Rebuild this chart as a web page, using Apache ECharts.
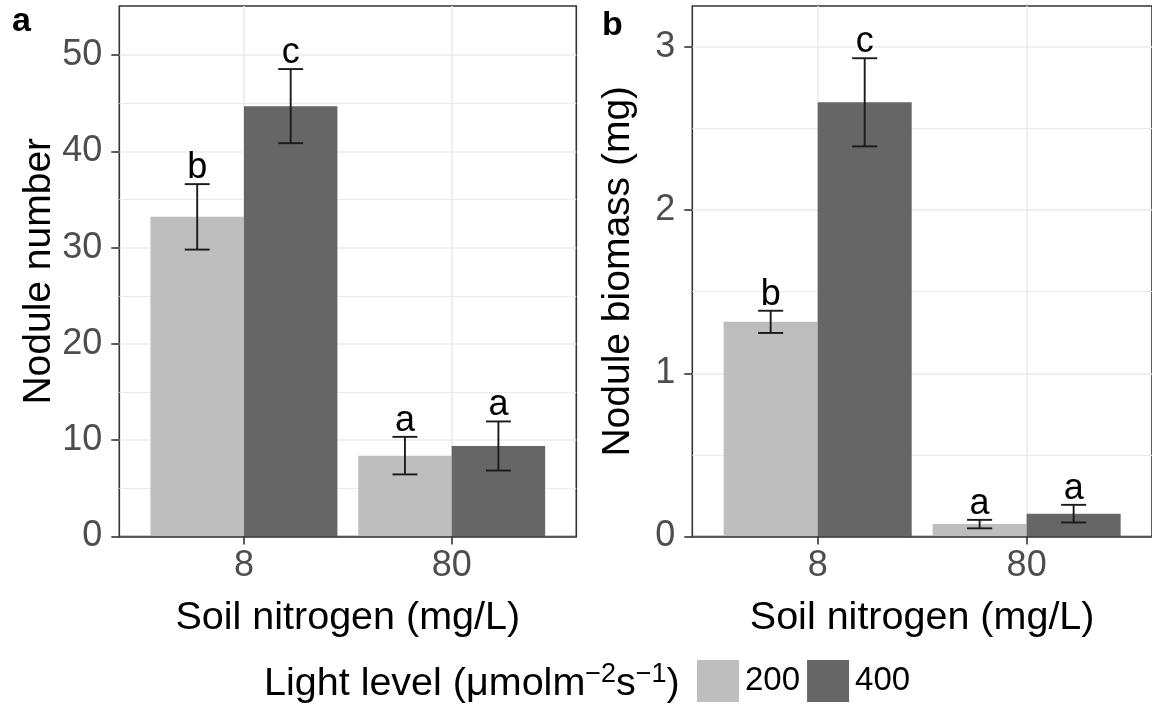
<!DOCTYPE html>
<html>
<head>
<meta charset="utf-8">
<script src="https://cdn.jsdelivr.net/npm/echarts@6/dist/echarts.min.js"></script>
<style>
  html, body { margin: 0; padding: 0; background: #ffffff; }
  #chart { width: 1152px; height: 711px; }
</style>
</head>
<body>
<div id="chart"></div>
<script>
// Soil nitrogen treatments (x categories) and light levels (fill groups)
const nitrogen = ['8', '80'];
const lightLevels = ['200', '400'];

// Panel a: nodule number, mean and standard error
const numberMean200 = [33.2, 8.4];
const numberSe200 = [3.4, 1.95];
const numberMean400 = [44.7, 9.4];
const numberSe400 = [3.85, 2.55];
const numberLetters200 = ['b', 'a'];
const numberLetters400 = ['c', 'a'];
const numberTicks = [0, 10, 20, 30, 40, 50];

// Panel b: nodule biomass (mg), mean and standard error
const biomassMean200 = [1.315, 0.076];
const biomassSe200 = [0.068, 0.026];
const biomassMean400 = [2.66, 0.14];
const biomassSe400 = [0.27, 0.054];
const biomassLetters200 = ['b', 'a'];
const biomassLetters400 = ['c', 'a'];
const biomassTicks = [0, 1, 2, 3];

const FONT = '"Liberation Sans", Arial, sans-serif';
const COLORS = { '200': '#bebebe', '400': '#666666' };
const GRID_COLOR = '#ebebeb';
const positions = nitrogen.map((_, i) => i + 1);

// minor gridlines sit halfway between major breaks
const midpoints = ticks => ticks.slice(1).map((t, i) => (t + ticks[i]) / 2);

const chart = echarts.init(document.getElementById('chart'), null, { renderer: 'canvas' });

// Dodged bar with error bar and significance letter, drawn in data units
function barRenderer(offset, color, letters) {
  const half = 0.225, cap = 0.06;
  return function (params, api) {
    const x = api.value(0) + offset;
    const m = api.value(1), se = api.value(2);
    const tl = api.coord([x - half, m]);
    const br = api.coord([x + half, 0]);
    const hi = api.coord([x, m + se]);
    const lo = api.coord([x, m - se]);
    const cl = api.coord([x - cap, m])[0];
    const cr = api.coord([x + cap, m])[0];
    const ink = { stroke: '#1a1a1a', lineWidth: 1.9 };
    return {
      type: 'group',
      children: [
        { type: 'rect', shape: { x: tl[0], y: tl[1], width: br[0] - tl[0], height: br[1] - tl[1] }, style: { fill: color } },
        { type: 'line', shape: { x1: hi[0], y1: hi[1], x2: lo[0], y2: lo[1] }, style: ink },
        { type: 'line', shape: { x1: cl, y1: hi[1], x2: cr, y2: hi[1] }, style: ink },
        { type: 'line', shape: { x1: cl, y1: lo[1], x2: cr, y2: lo[1] }, style: ink },
        { type: 'text', x: hi[0], y: hi[1] + 2,
          style: { text: letters[params.dataIndex], fill: '#000', font: '36px ' + FONT, align: 'center', verticalAlign: 'bottom' } }
      ]
    };
  };
}

function barSeries(name, gridIndex, means, ses, letters, offset) {
  return {
    name: name,
    type: 'custom',
    xAxisIndex: gridIndex,
    yAxisIndex: gridIndex,
    z: 3,
    itemStyle: { color: COLORS[name] },
    renderItem: barRenderer(offset, COLORS[name], letters),
    encode: { x: 0, y: [1, 2] },
    data: positions.map((p, i) => [p, means[i], ses[i]])
  };
}

// Vertical major gridlines at each nitrogen level plus horizontal minor gridlines
function gridLineSeries(gridIndex, ticks) {
  return {
    type: 'line',
    xAxisIndex: gridIndex,
    yAxisIndex: gridIndex,
    data: [],
    z: 1,
    silent: true,
    markLine: {
      z: 1,
      silent: true,
      symbol: 'none',
      label: { show: false },
      lineStyle: { color: GRID_COLOR, type: 'solid', width: 1.6 },
      data: positions.map(p => ({ xAxis: p })).concat(
        midpoints(ticks).map(v => ({ yAxis: v, lineStyle: { color: GRID_COLOR, type: 'solid', width: 1.2 } }))
      )
    }
  };
}

const tickLine = { color: '#333333', width: 1.6 };

function xAxisFor(gridIndex) {
  return {
    type: 'value', gridIndex: gridIndex, min: 0.4, max: 2.6, z: 5,
    axisLine: { show: true, onZero: false, lineStyle: tickLine },
    axisTick: { show: true, customValues: positions, length: 8, lineStyle: tickLine },
    axisLabel: { customValues: positions, formatter: v => nitrogen[Math.round(v) - 1],
      fontFamily: FONT, fontSize: 36, color: '#4d4d4d', margin: 12 },
    splitLine: { show: false },
    name: 'Soil nitrogen (mg/L)', nameLocation: 'middle', nameGap: 62,
    nameTextStyle: { fontFamily: FONT, fontSize: 39.5, color: '#000' }
  };
}

function yAxisFor(gridIndex, max, interval, ticks, title, gap) {
  return {
    type: 'value', gridIndex: gridIndex, min: 0, max: max, interval: interval,
    axisLine: { show: false },
    axisTick: { show: true, customValues: ticks, length: 8, lineStyle: tickLine },
    axisLabel: { customValues: ticks, fontFamily: FONT, fontSize: 36, color: '#4d4d4d', margin: 17 },
    splitLine: { show: true, lineStyle: { color: GRID_COLOR, width: 1.6 } },
    name: title, nameLocation: 'middle', nameGap: gap, nameRotate: 90,
    nameTextStyle: { fontFamily: FONT, fontSize: 39, color: '#000' }
  };
}

const option = {
  backgroundColor: '#ffffff',
  animation: false,
  title: [
    { text: 'a', left: 7, top: 5, padding: [0, 5], textStyle: { fontFamily: FONT, fontSize: 34, fontWeight: 'bold', color: '#000' } },
    { text: 'b', left: 597, top: 4, textStyle: { fontFamily: FONT, fontSize: 34, fontWeight: 'bold', color: '#000' } },
    {
      text: 'Light level (μmolm{sup|−2}s{sup|−1})',
      left: 259, top: 656,
      textStyle: {
        fontFamily: FONT, fontSize: 39.5, color: '#000', fontWeight: 'normal', lineHeight: 46,
        rich: { sup: { fontFamily: FONT, fontSize: 27, color: '#000', verticalAlign: 'top', lineHeight: 46 } }
      }
    }
  ],
  legend: {
    data: lightLevels,
    left: 697, top: 660,
    padding: 0,
    orient: 'horizontal',
    icon: 'rect',
    itemWidth: 42, itemHeight: 42, itemGap: 7,
    textStyle: { fontFamily: FONT, fontSize: 33, color: '#000', padding: [0, 0, 0, 1] },
    selectedMode: false
  },
  grid: [
    { left: 119.3, top: 6, width: 457, height: 530.5, show: true, borderColor: '#333333', borderWidth: 1.6, backgroundColor: 'transparent' },
    { left: 692.3, top: 6, width: 466, height: 530.5, show: true, borderColor: '#333333', borderWidth: 1.6, backgroundColor: 'transparent' }
  ],
  xAxis: [xAxisFor(0), xAxisFor(1)],
  yAxis: [
    yAxisFor(0, 55.1, 5, numberTicks, 'Nodule number', 60),
    yAxisFor(1, 3.25, 0.5, biomassTicks, 'Nodule biomass (mg)', 55)
  ],
  series: [
    gridLineSeries(0, numberTicks),
    gridLineSeries(1, biomassTicks),
    barSeries('200', 0, numberMean200, numberSe200, numberLetters200, -0.225),
    barSeries('400', 0, numberMean400, numberSe400, numberLetters400, 0.225),
    barSeries('200', 1, biomassMean200, biomassSe200, biomassLetters200, -0.225),
    barSeries('400', 1, biomassMean400, biomassSe400, biomassLetters400, 0.225)
  ]
};

chart.setOption(option);
</script>
</body>
</html>
